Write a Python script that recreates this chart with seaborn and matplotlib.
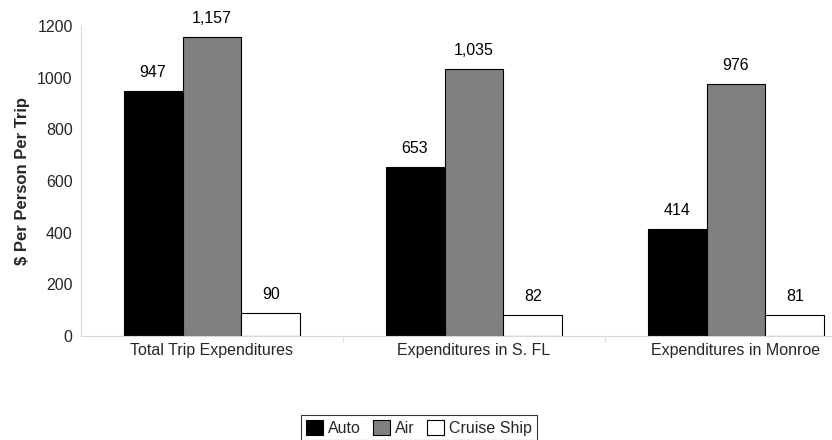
import matplotlib
matplotlib.use("Agg")
import matplotlib.pyplot as plt
import seaborn as sns
import pandas as pd
from matplotlib.patches import Patch
from matplotlib.ticker import FixedLocator

categories = ["Total Trip Expenditures", "Expenditures in S. FL", "Expenditures in Monroe"]
modes = ["Auto", "Air", "Cruise Ship"]
auto = [947, 653, 414]
air = [1157, 1035, 976]
cruise = [90, 82, 81]
yticks = [0, 200, 400, 600, 800, 1000, 1200]

sns.set_theme(style="white")
plt.rcParams["font.family"] = ["Liberation Sans", "DejaVu Sans"]

rows = []
for mode, vals in zip(modes, [auto, air, cruise]):
    for c, v in zip(categories, vals):
        rows.append({"Category": c, "Mode": mode, "Value": v})
df = pd.DataFrame(rows)

colors = {"Auto": "#000000", "Air": "#808080", "Cruise Ship": "#ffffff"}
FS = 11.5

fig = plt.figure(figsize=(8.32, 4.4), dpi=100)
ax = fig.add_axes([81 / 832, 104 / 440, (832 - 81) / 832, 310 / 440])

sns.barplot(data=df, x="Category", y="Value", hue="Mode", order=categories,
            hue_order=modes, palette=colors, width=0.675, edgecolor="black",
            linewidth=0.8, ax=ax, legend=False, saturation=1)

for cont in ax.containers:
    for bar in cont:
        h = bar.get_height()
        ax.annotate(f"{int(round(h)):,}", (bar.get_x() + bar.get_width() / 2, h),
                    xytext=(0, 8), textcoords="offset points", ha="center",
                    va="bottom", fontsize=FS, color="black")

ax.set_xlim(-0.5, -0.5 + (832 - 81) / 262)
ax.set_ylim(0, 1200)
ax.set_yticks(yticks)
ax.set_yticklabels([str(t) for t in yticks], fontsize=FS)
ax.tick_params(axis="y", which="major", length=3, color="#c8c8c8", width=0.8, pad=3)
ax.tick_params(axis="x", which="major", length=0, labelsize=FS, pad=5)
ax.xaxis.set_minor_locator(FixedLocator([0.5, 1.5]))
ax.tick_params(axis="x", which="minor", length=4, color="#e0e0e0", width=0.8, bottom=True)
ax.set_xlabel("")
ax.set_ylabel("$ Per Person Per Trip", fontsize=12, fontweight="bold", labelpad=5)
for s in ["top", "right"]:
    ax.spines[s].set_visible(False)
for s in ["left", "bottom"]:
    ax.spines[s].set_color("#d8d8d8")
    ax.spines[s].set_linewidth(0.8)

handles = [Patch(facecolor=colors[m], edgecolor="black", linewidth=0.8, label=m) for m in modes]
leg = fig.legend(handles=handles, loc="upper center", bbox_to_anchor=(419 / 832, 1 - 415 / 440),
                 ncol=3, frameon=True, fontsize=FS, handlelength=1.05, handleheight=1.05,
                 handletextpad=0.3, columnspacing=0.8, borderpad=0.3, borderaxespad=0,
                 fancybox=False)
leg.get_frame().set_edgecolor("black")
leg.get_frame().set_linewidth(0.8)

fig.savefig("out.png", dpi=100)
